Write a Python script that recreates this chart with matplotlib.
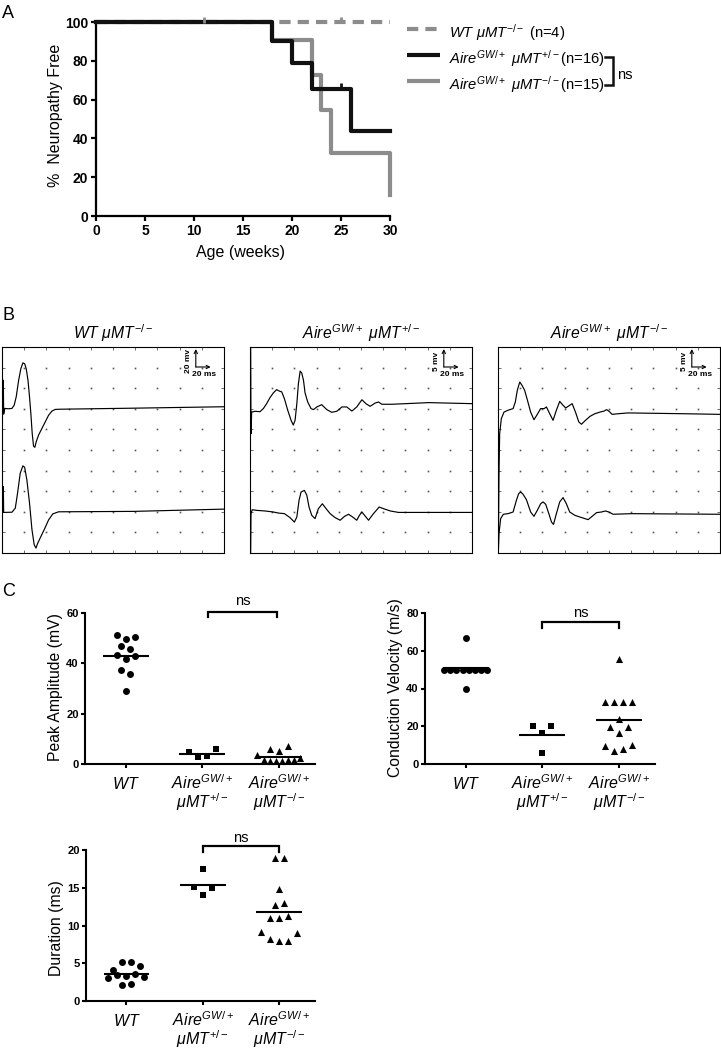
import numpy as np
import matplotlib.pyplot as plt
from matplotlib.lines import Line2D

plt.rcParams['font.family'] = ['Liberation Sans', 'DejaVu Sans']
plt.rcParams['mathtext.fontset'] = 'custom'
plt.rcParams['mathtext.rm'] = 'Liberation Sans'
plt.rcParams['mathtext.it'] = 'Liberation Sans:italic'
plt.rcParams['mathtext.bf'] = 'Liberation Sans:bold'

W, H = 721, 1050
GRAY = '#8c8c8c'
BLACK = '#111111'

# ---------------- A: neuropathy-free survival ----------------
wt_weeks = [0, 30]
wt_free = [100, 100]
wt_censored = [11, 25]
het_weeks = [0, 18, 20, 22, 26, 30]
het_free = [100, 90.0, 78.75, 65.6, 43.75, 43.75]
het_censored = [25]
ko_weeks = [0, 18, 22, 23, 24, 30, 30]
ko_free = [100, 90.9, 72.7, 54.5, 32.7, 32.7, 10.9]

legend_labels = [r'$WT\ \mu MT^{-/-}$ (n=4)',
                 r'$Aire^{GW/+}\ \mu MT^{+/-}$(n=16)',
                 r'$Aire^{GW/+}\ \mu MT^{-/-}$(n=15)']

# ---------------- B: nerve conduction traces (grid divisions) ----------------
wt_top_x = [0.0, 0.045, 0.06, 0.075, 0.12, 0.30, 0.45, 0.55, 0.64, 0.75, 0.85, 0.94, 1.02, 1.09, 1.17,
            1.24, 1.30, 1.36, 1.42, 1.48, 1.54, 1.65, 1.80, 1.95, 2.10, 2.25, 2.40, 2.62, 5.92, 10.0]
wt_top_y = [7.02, 6.97, 8.39, 6.74, 7.02, 7.0, 7.02, 7.18, 7.58, 8.39, 8.95, 9.23, 9.19, 8.95, 8.39,
            7.58, 6.77, 5.81, 5.19, 5.13, 5.40, 5.73, 6.05, 6.37, 6.69, 6.89, 6.97, 6.98, 7.03, 7.10]
wt_bot_x = [0.0, 0.045, 0.06, 0.075, 0.45, 0.60, 0.70, 0.82, 0.94, 1.02, 1.12, 1.24, 1.35, 1.45, 1.53,
            1.60, 1.72, 1.90, 2.10, 2.29, 2.55, 5.92, 10.0]
wt_bot_y = [1.98, 1.98, 3.23, 1.97, 1.98, 2.18, 2.90, 3.87, 4.23, 4.16, 3.55, 2.42, 1.13, 0.40, 0.24,
            0.45, 0.73, 1.13, 1.61, 1.90, 2.00, 2.02, 2.13]

het_top_x = [0.03, 0.045, 0.075, 0.23, 0.45, 0.60, 0.75, 0.90, 1.05, 1.20, 1.32, 1.43, 1.55, 1.70, 1.85,
             1.95, 2.03, 2.11, 2.18, 2.26, 2.33, 2.41, 2.48, 2.60, 2.75, 2.86, 3.01, 3.23, 3.46, 3.68,
             3.91, 4.14, 4.36, 4.59, 4.81, 5.04, 5.22, 5.41, 5.64, 5.79, 5.94, 6.39, 8.05, 10.0]
het_top_y = [10.0, 5.79, 6.84, 6.88, 6.86, 7.01, 7.25, 7.54, 7.77, 7.93, 7.86, 7.82, 7.49, 6.93, 6.44,
             6.21, 6.44, 7.25, 8.22, 8.83, 8.74, 8.38, 7.77, 7.33, 7.01, 6.96, 7.09, 7.20, 6.96, 6.83,
             6.88, 7.09, 7.09, 6.89, 7.09, 7.44, 7.25, 7.12, 7.28, 7.33, 7.22, 7.22, 7.30, 7.25]
het_bot_x = [0.03, 0.045, 0.10, 0.30, 0.68, 1.05, 1.28, 1.55, 1.80, 2.00, 2.11, 2.21, 2.30, 2.45, 2.56,
             2.66, 2.78, 2.93, 3.08, 3.26, 3.43, 3.61, 3.83, 4.06, 4.26, 4.44, 4.62, 4.81, 4.93, 5.04,
             5.16, 5.34, 5.56, 5.82, 6.02, 6.32, 6.69, 10.0]
het_bot_y = [0.0, 1.91, 2.10, 2.07, 2.04, 1.99, 1.94, 1.91, 1.72, 1.50, 1.75, 2.56, 2.96, 3.04, 2.80,
             2.23, 1.83, 1.67, 2.15, 2.39, 2.15, 1.91, 1.72, 1.59, 1.78, 1.88, 1.75, 1.59, 1.83, 1.99,
             1.83, 1.59, 1.91, 2.23, 2.15, 2.04, 1.97, 1.97]

ko_top_x = [0.015, 0.045, 0.075, 0.15, 0.27, 0.45, 0.68, 0.78, 0.87, 0.98, 1.08, 1.20, 1.32, 1.47, 1.62,
            1.77, 1.92, 2.08, 2.18, 2.33, 2.48, 2.63, 2.78, 2.93, 3.05, 3.23, 3.34, 3.49, 3.64, 3.76,
            3.91, 4.14, 4.36, 4.59, 4.78, 4.89, 4.99, 5.14, 5.41, 5.86, 8.42, 10.0]
ko_top_y = [0.0, 3.85, 5.79, 6.52, 6.84, 6.93, 7.01, 7.33, 7.90, 8.30, 8.14, 7.90, 7.44, 6.84, 6.47,
            6.73, 7.01, 7.01, 7.09, 6.76, 6.44, 6.93, 7.36, 7.17, 7.04, 7.17, 7.25, 6.84, 6.36, 6.25,
            6.41, 6.63, 6.76, 6.84, 6.89, 6.96, 6.89, 6.73, 6.76, 6.80, 6.76, 6.73]
ko_bot_x = [0.015, 0.045, 0.12, 0.24, 0.45, 0.68, 0.83, 0.93, 1.02, 1.13, 1.28, 1.47, 1.62, 1.77, 1.92,
            2.03, 2.15, 2.29, 2.41, 2.50, 2.63, 2.78, 2.93, 3.08, 3.23, 3.46, 3.68, 3.91, 4.06, 4.24,
            4.44, 4.66, 4.84, 4.99, 5.19, 6.02, 10.0]
ko_bot_y = [0.0, 0.94, 1.67, 1.88, 1.91, 1.99, 2.56, 2.88, 2.96, 2.85, 2.59, 1.99, 1.78, 2.07, 2.39,
            2.48, 2.36, 1.91, 1.50, 1.39, 1.91, 2.48, 2.69, 2.39, 1.99, 1.83, 1.75, 1.67, 1.62, 1.78,
            1.96, 1.99, 2.04, 1.99, 1.88, 1.91, 1.88]

box_titles = [r'$WT\ \mu MT^{-/-}$', r'$Aire^{GW/+}\ \mu MT^{+/-}$', r'$Aire^{GW/+}\ \mu MT^{-/-}$']
scale_mv = ['20 mv', '5 mv', '5 mv']

# ---------------- C: electrophysiology ----------------
amp_wt = [51.4, 49.8, 50.3, 46.8, 45.7, 43.2, 41.6, 42.8, 37.5, 35.6, 29.1]
amp_het = [4.6, 2.9, 3.0, 5.9]
amp_ko = [5.8, 5.0, 7.0, 3.6, 1.4, 1.2, 1.3, 1.2, 1.4, 1.5, 2.4]

vel_wt = [66.7, 50, 50, 50, 50, 50, 50, 50, 50, 40]
vel_het = [20, 16.6, 20, 5.8]
vel_ko = [55.5, 33, 33, 33, 33, 24.0, 19.5, 16.3, 19.5, 9.7, 6.9, 8.0, 10.1]

dur_wt = [4.1, 5.1, 5.2, 4.6, 3.1, 3.45, 3.3, 3.6, 3.2, 2.1, 2.3]
dur_het = [17.5, 15.1, 14.0, 15.0]
dur_ko = [19.0, 19.0, 14.9, 12.7, 13.0, 11.0, 11.0, 11.2, 9.1, 8.2, 7.95, 7.95, 8.95]

cat_line1 = [r'$WT$', r'$Aire^{GW/+}$', r'$Aire^{GW/+}$']
cat_line2 = ['', r'$\mu MT^{+/-}$', r'$\mu MT^{-/-}$']


def rect(left, top, right, bottom):
    return [left / W, 1 - bottom / H, (right - left) / W, (bottom - top) / H]


def step_at(ts, ys, t):
    i = np.searchsorted(ts, t, side='right') - 1
    return ys[i]


fig = plt.figure(figsize=(W / 100, H / 100), dpi=100)

for letter, y in [('A', 13), ('B', 315), ('C', 592)]:
    fig.text(2 / W, 1 - y / H, letter, fontsize=13, ha='left', va='center')

# ---- A
axA = fig.add_axes(rect(96, 22, 390, 216))
axA.plot(wt_weeks, wt_free, color=GRAY, lw=3, ls=(0, (2.7, 1.7)), drawstyle='steps-post',
         clip_on=False, zorder=2, solid_capstyle='butt')
axA.plot(ko_weeks, ko_free, color=GRAY, lw=3, drawstyle='steps-post', clip_on=False, zorder=3)
axA.plot(het_weeks, het_free, color=BLACK, lw=3, drawstyle='steps-post', clip_on=False, zorder=4)
axA.plot(wt_censored, [step_at(wt_weeks, wt_free, t) + 1.2 for t in wt_censored], ls='none',
         marker='|', ms=4, mew=2, color=GRAY, clip_on=False, zorder=5)
axA.plot(het_censored, [step_at(het_weeks, het_free, t) + 1.2 for t in het_censored], ls='none',
         marker='|', ms=4, mew=2, color=BLACK, clip_on=False, zorder=5)
axA.set_xlim(0, 30)
axA.set_ylim(0, 100)
axA.set_xticks(range(0, 31, 5))
axA.set_xticklabels([str(v) for v in range(0, 31, 5)], fontweight='bold', fontsize=10)
axA.set_yticks(range(0, 101, 20))
axA.set_yticklabels([str(v) for v in range(0, 101, 20)], fontweight='bold', fontsize=10)
axA.spines[['top', 'right']].set_visible(False)
for s in ['left', 'bottom']:
    axA.spines[s].set_linewidth(1.6)
axA.tick_params(length=3.5, width=1.6, pad=2)
axA.set_xlabel('Age (weeks)', fontsize=11.5)
axA.xaxis.set_label_coords(0.49, -0.19)
axA.xaxis.label.set_va('center')
axA.set_ylabel('%  Neuropathy Free', fontsize=11.5)
axA.yaxis.set_label_coords(-0.139, 0.518)
axA.yaxis.label.set_va('center')

# legend drawn by hand
leg_styles = [dict(color=GRAY, ls=(0, (2.7, 1.7))), dict(color=BLACK), dict(color=GRAY)]
for i, (lab, st) in enumerate(zip(legend_labels, leg_styles)):
    base = 38 + 26 * i
    fig.add_artist(Line2D([407 / W, 440 / W], [1 - (base - 9) / H] * 2, lw=3, solid_capstyle='butt', **st))
    fig.text(449 / W, 1 - base / H, lab, fontsize=10.6, ha='left', va='baseline')
fig.add_artist(Line2D(np.array([605, 613, 613, 605]) / W, 1 - np.array([57, 57, 85, 85]) / H,
                      color=BLACK, lw=1.8, solid_joinstyle='miter'))
fig.text(617 / W, 1 - 75 / H, 'ns', fontsize=10.5, ha='left', va='center')

# ---- B
traces = [[(wt_top_x, wt_top_y), (wt_bot_x, wt_bot_y)],
          [(het_top_x, het_top_y), (het_bot_x, het_bot_y)],
          [(ko_top_x, ko_top_y), (ko_bot_x, ko_bot_y)]]
gx, gy = np.meshgrid(np.arange(1, 10), np.arange(1, 10))
for left, title, trs, mv in zip([2, 250, 498], box_titles, traces, scale_mv):
    ax = fig.add_axes(rect(left, 347, left + 222, 553))
    ax.set_xlim(0, 10)
    ax.set_ylim(0, 10)
    ax.plot(gx.ravel(), gy.ravel(), ls='none', marker='s', ms=1.2, mew=0, color='#555555')
    for xs, ys in trs:
        ax.plot(xs, ys, color='k', lw=0.85)
    ax.set_xticks(range(11))
    ax.set_yticks(range(11))
    ax.tick_params(direction='in', length=2, width=0.6, color='#555555', top=True, right=True,
                   labelleft=False, labelbottom=False)
    for s in ax.spines.values():
        s.set_linewidth(0.8)
    arrow = dict(arrowstyle='->', lw=0.8, shrinkA=0, shrinkB=0, mutation_scale=6, color='k')
    ax.annotate('', xy=(8.73, 9.9), xytext=(8.73, 9.03), arrowprops=arrow)
    ax.annotate('', xy=(9.4, 9.03), xytext=(8.73, 9.03), arrowprops=arrow)
    ax.text(8.4, 9.32, mv, rotation=90, ha='center', va='center', fontsize=6, fontweight='bold')
    ax.text(9.1, 8.68, '20 ms', ha='center', va='center', fontsize=6, fontweight='bold')
    fig.text((left + 111) / W, 1 - 333 / H, title, ha='center', va='center', fontsize=11.3)


# ---- C
def swarm(values, row_tol, px_per_unit, step_px=9.0, max_px=43.0):
    values = np.asarray(values, dtype=float)
    order = np.argsort(-values, kind='stable')
    rows = []
    for i in order:
        if rows and rows[-1][0] - values[i] <= row_tol:
            rows[-1][1].append(i)
        else:
            rows.append([values[i], [i]])
    offs = np.zeros(len(values))
    for _, idx in rows:
        idx = sorted(idx)
        n = len(idx)
        step = step_px if n < 2 else min(step_px, max_px / (n - 1))
        for k, i in enumerate(idx):
            offs[i] = (k - (n - 1) / 2) * step / px_per_unit
    return offs


def dot_panel(box, data, ylim, yticks, ylabel, label_xy, row_tol, br_x, br_y, ns_y):
    ax = fig.add_axes(rect(*box))
    xlim = (-0.53, 2.47)
    ax.set_xlim(*xlim)
    ax.set_ylim(*ylim)
    box_h = box[3] - box[1]
    ppu = (box[2] - box[0]) / (xlim[1] - xlim[0])
    for i, (vals, m, s) in enumerate(zip(data, ['o', 's', '^'], [25, 20, 26])):
        offs = swarm(vals, row_tol, ppu)
        ax.scatter(i + offs, vals, marker=m, s=s, color='k', linewidths=0, clip_on=False, zorder=3)
        ax.hlines(np.mean(vals), i - 0.3, i + 0.3, color='k', lw=1.5, zorder=4)
    ax.spines[['top', 'right']].set_visible(False)
    for s in ['left', 'bottom']:
        ax.spines[s].set_linewidth(1.5)
    ax.tick_params(length=3, width=1.5, pad=1.5)
    ax.set_xticks([0, 1, 2])
    ax.set_xticklabels([])
    ax.set_yticks(yticks)
    ax.set_yticklabels([str(v) for v in yticks], fontweight='bold', fontsize=8)
    ax.set_ylabel(ylabel, fontsize=11.3)
    ax.yaxis.set_label_coords(*label_xy)
    ax.yaxis.label.set_va('center')
    tr = ax.get_xaxis_transform()
    for i in range(3):
        ax.text(i, -25 / box_h, cat_line1[i], transform=tr, ha='center', va='baseline', fontsize=11.5)
        if cat_line2[i]:
            ax.text(i, -44 / box_h, cat_line2[i], transform=tr, ha='center', va='baseline', fontsize=11.5)
    top, leg = br_y
    ax.plot([br_x[0], br_x[0], br_x[1], br_x[1]], [leg, top, top, leg], color='k', lw=1.6,
            clip_on=False, solid_joinstyle='miter')
    ax.text(sum(br_x) / 2, ns_y, 'ns', ha='center', va='center', fontsize=10.5)
    return ax


dot_panel((85, 613, 315, 764), [amp_wt, amp_het, amp_ko], (0, 60), [0, 20, 40, 60],
          'Peak Amplitude (mV)', (-0.128, 0.507), 3.3, (1.07, 1.98), (60.5, 58.3), 64.7)
dot_panel((425, 613, 655, 764), [vel_wt, vel_het, vel_ko], (0, 80), [0, 20, 40, 60, 80],
          'Conduction Velocity (m/s)', (-0.128, 0.507), 4.0, (1, 2), (75.1, 72.2), 80.2)
dot_panel((86, 850, 315, 1001), [dur_wt, dur_het, dur_ko], (0, 20), [0, 5, 10, 15, 20],
          'Duration (ms)', (-0.128, 0.483), 1.25, (1, 2), (20.53, 19.8), 21.6)

fig.savefig('out.png', dpi=100)
